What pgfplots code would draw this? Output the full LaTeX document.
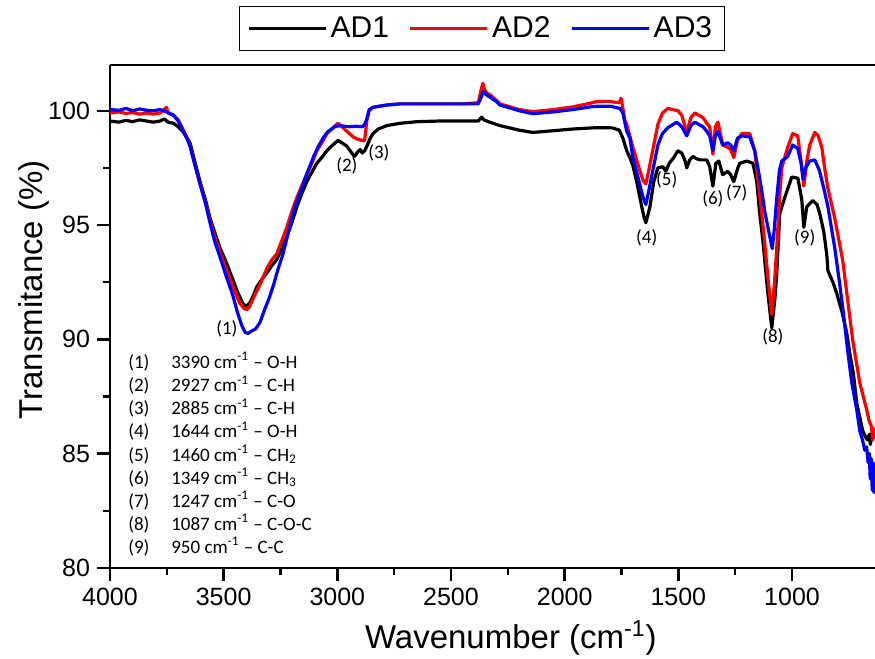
\documentclass[border=0pt]{standalone}
\usepackage{fontspec}
\setmainfont{Liberation Sans}
\newfontfamily\calib{Carlito}
\usepackage{pgfplots}
\usepackage{pgfplotstable}
\pgfplotsset{compat=1.18}
\usetikzlibrary{calc}

% FTIR spectra, wavenumber (cm^-1) vs transmittance (%)
\pgfplotstableread{
w T
4000 99.55
3960 99.50
3930 99.58
3900 99.52
3870 99.60
3840 99.55
3810 99.50
3780 99.55
3760 99.64
3745 99.50
3720 99.45
3700 99.30
3680 99.10
3660 98.80
3648 98.60
3630 97.90
3604 96.90
3580 96.10
3560 95.30
3540 94.70
3516 94.00
3490 93.40
3459 92.60
3440 92.10
3415 91.55
3400 91.45
3385 91.60
3370 91.90
3354 92.30
3330 92.65
3310 92.90
3290 93.20
3266 93.50
3245 93.95
3222 94.50
3200 95.10
3178 95.80
3155 96.40
3134 96.90
3110 97.35
3090 97.70
3065 98.00
3046 98.25
3020 98.50
2997 98.70
2980 98.60
2958 98.45
2940 98.20
2925 98.00
2910 98.20
2900 98.30
2890 98.15
2880 98.25
2870 98.45
2855 98.80
2843 99.00
2820 99.20
2782 99.35
2725 99.45
2650 99.52
2550 99.55
2450 99.55
2380 99.55
2365 99.72
2355 99.60
2330 99.50
2285 99.35
2200 99.15
2140 99.05
2080 99.10
1964 99.20
1859 99.26
1790 99.25
1760 99.15
1744 98.80
1727 98.25
1713 97.95
1700 97.60
1683 96.90
1661 95.80
1650 95.30
1643 95.10
1635 95.40
1625 95.80
1608 96.90
1590 97.50
1568 97.55
1555 97.35
1540 97.70
1520 97.95
1502 98.25
1485 98.15
1470 97.80
1463 97.50
1450 97.85
1436 98.00
1420 97.90
1405 97.85
1375 97.85
1362 97.55
1348 96.70
1335 97.70
1322 97.80
1305 97.20
1283 97.35
1270 97.20
1256 96.90
1240 97.45
1230 97.70
1199 97.80
1172 97.70
1155 96.90
1142 95.50
1128 94.30
1106 92.00
1089 90.50
1075 91.80
1067 92.90
1054 95.50
1032 96.20
1001 97.10
974 97.05
957 96.10
948 94.90
935 95.80
909 96.07
890 95.90
878 95.50
860 94.70
847 93.70
842 93.00
820 92.50
803 92.00
780 91.20
759 90.26
746 89.40
730 88.50
715 87.20
702 86.60
689 86.00
675 85.70
667 85.60
660 85.85
655 85.40
648 85.90
642 85.70
635 85.90
}\adone

\pgfplotstableread{
w T
4000 99.90
3960 99.95
3930 99.88
3900 99.92
3870 99.85
3840 99.90
3810 99.85
3780 99.90
3752 100.15
3745 99.90
3720 99.80
3700 99.60
3680 99.20
3660 98.80
3648 98.50
3630 97.80
3604 96.80
3580 96.00
3560 95.20
3540 94.50
3516 93.80
3490 93.10
3459 92.30
3430 91.60
3410 91.35
3398 91.30
3385 91.45
3370 91.80
3340 92.40
3310 93.10
3290 93.45
3266 93.75
3245 94.30
3222 94.90
3200 95.60
3178 96.20
3155 96.75
3134 97.20
3110 97.75
3090 98.25
3065 98.65
3046 99.00
3020 99.25
2997 99.45
2980 99.30
2958 99.10
2930 98.85
2910 98.75
2890 98.70
2880 98.70
2870 99.60
2860 100.00
2843 100.15
2782 100.25
2725 100.30
2600 100.30
2450 100.30
2380 100.35
2368 100.90
2360 101.20
2352 100.90
2340 100.75
2329 100.70
2300 100.45
2285 100.30
2200 100.05
2140 99.96
2050 100.05
1964 100.17
1900 100.30
1859 100.40
1800 100.40
1760 100.35
1752 100.55
1744 100.10
1735 99.56
1727 99.40
1700 98.40
1670 97.40
1655 96.95
1643 96.80
1630 97.40
1616 98.10
1590 99.40
1570 99.90
1546 100.10
1525 100.05
1502 100.00
1485 99.80
1463 99.05
1445 99.70
1427 99.90
1410 99.80
1392 99.70
1375 99.45
1362 99.30
1348 98.10
1337 99.30
1326 99.50
1315 99.00
1305 98.50
1283 98.40
1270 98.30
1256 97.95
1240 98.70
1221 99.00
1186 99.00
1164 98.25
1150 97.00
1133 95.50
1120 94.20
1106 92.70
1089 91.10
1077 92.50
1067 94.00
1055 96.20
1045 97.50
1019 98.40
997 99.00
975 98.90
960 97.80
948 96.70
935 97.80
922 98.50
900 99.05
885 98.90
869 98.40
855 97.40
842 96.60
812 95.30
777 93.45
733 89.96
702 88.10
671 86.90
660 86.40
651 86.20
645 85.60
640 86.10
635 85.70
}\adtwo

\pgfplotstableread{
w T
4000 100.05
3960 100.02
3930 100.10
3900 100.00
3870 100.08
3840 100.02
3810 100.00
3780 100.05
3750 99.95
3720 99.80
3700 99.55
3680 99.15
3660 98.75
3648 98.45
3630 97.75
3604 96.80
3580 95.95
3560 95.10
3540 94.30
3516 93.60
3490 92.80
3459 91.90
3440 91.20
3420 90.60
3405 90.30
3393 90.26
3380 90.35
3360 90.45
3340 90.75
3320 91.30
3300 91.80
3280 92.40
3260 93.10
3240 93.70
3220 94.50
3200 95.30
3180 96.00
3160 96.50
3140 97.10
3120 97.60
3100 98.10
3080 98.50
3060 98.85
3040 99.10
3010 99.30
2990 99.35
2950 99.30
2920 99.32
2890 99.30
2880 99.40
2870 99.65
2860 100.05
2843 100.15
2782 100.25
2725 100.30
2600 100.30
2450 100.30
2380 100.30
2365 100.65
2358 100.85
2345 100.70
2329 100.60
2300 100.40
2285 100.25
2200 100.00
2140 99.87
2050 99.95
1964 100.05
1900 100.15
1859 100.20
1800 100.20
1757 100.10
1744 99.90
1727 99.10
1713 98.80
1700 97.95
1670 96.80
1655 96.20
1643 95.90
1630 96.50
1616 97.20
1590 98.50
1570 99.00
1546 99.26
1507 99.50
1485 99.30
1463 98.90
1445 99.35
1427 99.50
1410 99.40
1392 99.30
1375 99.10
1362 98.90
1348 98.25
1337 98.90
1326 99.10
1315 98.80
1305 98.50
1283 98.60
1270 98.50
1256 98.25
1240 98.80
1221 98.90
1186 98.85
1164 98.25
1150 97.50
1133 96.50
1120 95.60
1106 94.90
1087 93.97
1078 94.80
1067 96.20
1055 97.40
1045 97.80
1019 98.00
997 98.50
975 98.35
960 97.70
951 97.00
940 97.50
922 97.80
900 97.85
880 97.40
860 96.60
842 95.80
812 94.00
790 92.40
777 91.40
754 89.40
737 88.10
715 86.90
702 86.00
690 85.60
680 85.15
672 85.30
665 84.60
660 85.00
656 83.90
652 84.80
647 83.40
643 84.60
639 83.30
636 84.40
}\adthree

\begin{document}
\begin{tikzpicture}
\begin{axis}[
    name=ax,
    width=382.5pt, height=251.5pt, scale only axis,
    x dir=reverse,
    xmin=635, xmax=4000, ymin=80, ymax=102,
    axis x line=box, axis y line=left,
    x axis line style={-}, y axis line style={-},
    axis line style={line width=1.4pt},
    xtick pos=bottom, ytick pos=left,
    xtick={1000,1500,...,4000}, ytick={80,85,...,100},
    minor x tick num=1, minor y tick num=1,
    tick align=outside,
    major tick length=6.5pt, minor tick length=3.5pt,
    major tick style={line width=1.2pt, black},
    minor tick style={line width=1.2pt, black},
    /pgf/number format/assume math mode=true,
    /pgf/number format/1000 sep={},
    tick label style={font=\fontsize{12.5}{15}\selectfont},
    xlabel={Wavenumber (cm\textsuperscript{-1})},
    ylabel={Transmitance (\%)},
    every axis x label/.style={at={(axis description cs:0.524,-0.161)}, anchor=base, font=\fontsize{16.5}{20}\selectfont},
    every axis y label/.style={at={(axis description cs:-0.0876,0.553)}, rotate=90, anchor=base, font=\fontsize{16.5}{20}\selectfont},
    legend columns=3,
    legend image code/.code={\draw[#1, line width=1.1pt] (0pt,0pt) -- (38.5pt,0pt);},
    legend style={at={(axis description cs:0.486,1.0726)}, anchor=center,
        draw=black, line width=0.6pt, font=\fontsize{15}{17}\selectfont,
        inner xsep=4pt, inner ysep=3pt,
        /tikz/every even column/.append style={column sep=8pt}},
    clip mode=individual,
]
\addplot[black, line width=1.6pt, line join=round] table[x=w, y=T] {\adone};
\addlegendentry{AD1}
\addplot[red, line width=1.6pt, line join=round] table[x=w, y=T] {\adtwo};
\addlegendentry{AD2}
\addplot[blue, line width=1.6pt, line join=round] table[x=w, y=T] {\adthree};
\addlegendentry{AD3}

% peak labels
\begin{scope}[every node/.style={font=\calib\fontsize{9.5}{11}\selectfont, inner sep=0pt}]
\node at (axis cs:3486,90.48) {(1)};
\node at (axis cs:2958,97.60) {(2)};
\node at (axis cs:2817,98.17) {(3)};
\node at (axis cs:1639,94.45) {(4)};
\node at (axis cs:1551,96.99) {(5)};
\node at (axis cs:1348,96.16) {(6)};
\node at (axis cs:1243,96.42) {(7)};
\node at (axis cs:1084,90.09) {(8)};
\node at (axis cs:944,94.45) {(9)};
\end{scope}

% band assignments
\node[anchor=north west, inner sep=0pt, font=\calib\fontsize{9.5}{11.55}\selectfont]
  at (axis cs:3921,89.45) {%
  \begin{tabular}{@{}p{21.5pt}@{}l@{}}
  (1) & 3390 cm\textsuperscript{-1} \textendash{} O-H\\
  (2) & 2927 cm\textsuperscript{-1} \textendash{} C-H\\
  (3) & 2885 cm\textsuperscript{-1} \textendash{} C-H\\
  (4) & 1644 cm\textsuperscript{-1} \textendash{} O-H\\
  (5) & 1460 cm\textsuperscript{-1} \textendash{} CH\textsubscript{2}\\
  (6) & 1349 cm\textsuperscript{-1} \textendash{} CH\textsubscript{3}\\
  (7) & 1247 cm\textsuperscript{-1} \textendash{} C-O\\
  (8) & 1087 cm\textsuperscript{-1} \textendash{} C-O-C\\
  (9) & 950 cm\textsuperscript{-1} \textendash{} C-C
  \end{tabular}};
\end{axis}
\pgfresetboundingbox
\path ($(ax.south west)+(-55pt,-45.5pt)$) rectangle ($(ax.north east)+(0pt,32.5pt)$);
\end{tikzpicture}
\end{document}
